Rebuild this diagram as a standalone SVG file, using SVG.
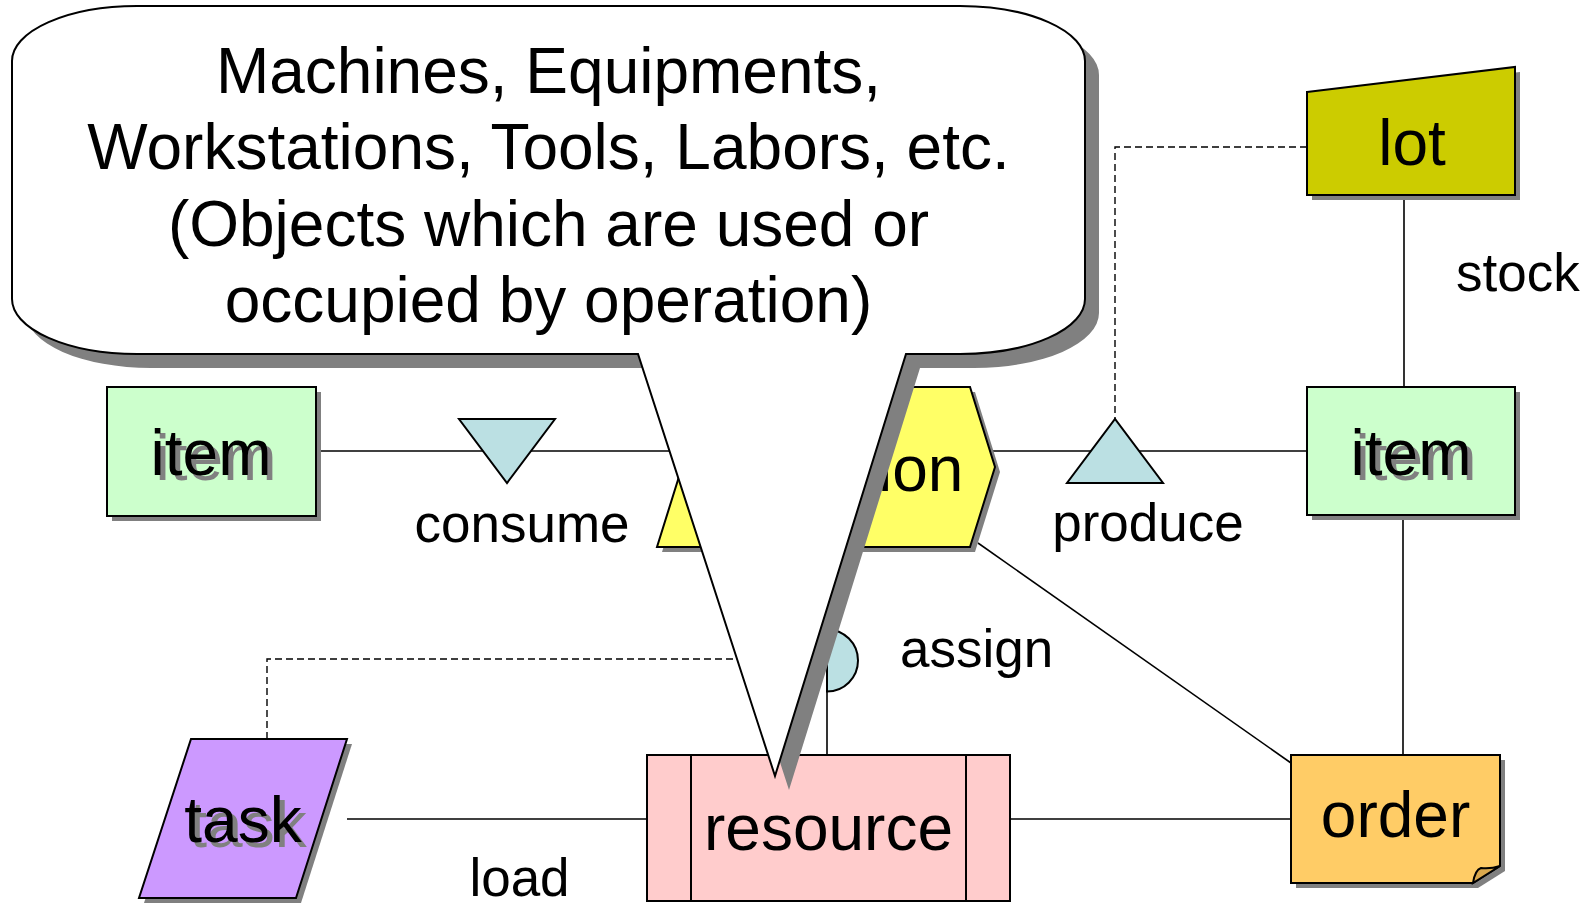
<svg xmlns="http://www.w3.org/2000/svg" width="1586" height="903" viewBox="0 0 1586 903">
  <style>
    .ln { stroke: #000; stroke-width: 1.6; fill: none; }
    .dash { stroke: #000; stroke-width: 1.4; fill: none; stroke-dasharray: 7 4; }
    .shape { stroke: #000; stroke-width: 2; stroke-linejoin: miter; }
    .shadow { fill: #808080; stroke: none; }
    .node { font-family: "Liberation Sans", Arial, sans-serif; font-size: 64px; text-anchor: middle; fill: #000; }
    .node-sh { font-family: "Liberation Sans", Arial, sans-serif; font-size: 64px; text-anchor: middle; fill: #808080; }
    .lbl { font-family: "Liberation Sans", Arial, sans-serif; font-size: 53px; fill: #000; }
    .mid { text-anchor: middle; }
    .rel { fill: #BBE0E3; }
  </style>
  <rect x="0" y="0" width="1586" height="903" fill="#FFFFFF"/>

  <!-- connectors -->
  <g id="connectors">
    <line class="ln" x1="316" y1="451" x2="677" y2="451"/>
    <line class="ln" x1="990" y1="451" x2="1307" y2="451"/>
    <line class="ln" x1="1404" y1="195" x2="1404" y2="387"/>
    <line class="ln" x1="1403" y1="515" x2="1403" y2="755"/>
    <polyline class="dash" points="1307,147 1115,147 1115,419"/>
    <polyline class="dash" points="267,739 267,659 827,659"/>
    <line class="ln" x1="978" y1="543" x2="1291" y2="763"/>
    <line class="ln" x1="827" y1="547" x2="827" y2="755"/>
    <line class="ln" x1="347" y1="819" x2="647" y2="819"/>
    <line class="ln" x1="1010" y1="819" x2="1291" y2="819"/>
  </g>

  <!-- relationship markers -->
  <g id="consume">
    <polygon class="shape rel" points="459,419 555,419 507,483"/>
    <text class="lbl mid" x="522" y="542">consume</text>
  </g>
  <g id="produce">
    <polygon class="shape rel" points="1067,483 1163,483 1115,419"/>
    <text class="lbl mid" x="1148" y="541">produce</text>
  </g>
  <g id="assign">
    <path class="shape rel" d="M827,629.5 A31,31 0 0 1 827,691.5 Z"/>
    <text class="lbl" x="900" y="667">assign</text>
  </g>
  <text class="lbl" x="1456" y="291">stock</text>
  <text class="lbl mid" x="519.5" y="896">load</text>

  <!-- nodes -->
  <g id="item-in">
    <rect class="shadow" x="112" y="392" width="209" height="129"/>
    <rect class="shape" x="107" y="387" width="209" height="129" fill="#CCFFCC"/>
    <text class="node-sh" x="216" y="480">item</text>
    <text class="node" x="211" y="475">item</text>
  </g>

  <g id="operation">
    <polygon class="shadow" points="662,392 975,392 1000,472 975,552 662,552 687,472"/>
    <polygon class="shape" points="657,387 970,387 995,467 970,547 657,547 682,467" fill="#FFFF66"/>
    <text class="node" x="830" y="491">operation</text>
  </g>

  <g id="item-out">
    <rect class="shadow" x="1312" y="392" width="208" height="128"/>
    <rect class="shape" x="1307" y="387" width="208" height="128" fill="#CCFFCC"/>
    <text class="node-sh" x="1416" y="480">item</text>
    <text class="node" x="1411" y="475">item</text>
  </g>

  <g id="lot">
    <polygon class="shadow" points="1312,97 1520,72 1520,200 1312,200"/>
    <polygon class="shape" points="1307,92 1515,67 1515,195 1307,195" fill="#CCCC00"/>
    <text class="node" x="1412" y="165">lot</text>
  </g>

  <g id="task">
    <polygon class="shadow" points="196,744 352,744 301,903 144,903"/>
    <polygon class="shape" points="191,739 347,739 296,898 139,898" fill="#CC99FF"/>
    <text class="node-sh" x="248" y="847">task</text>
    <text class="node" x="243" y="842">task</text>
  </g>

  <g id="resource">
    <rect class="shape" x="647" y="755" width="363" height="146" fill="#FFCCCC"/>
    <line class="shape" x1="691" y1="755" x2="691" y2="901"/>
    <line class="shape" x1="966" y1="755" x2="966" y2="901"/>
    <text class="node" x="828.5" y="850">resource</text>
  </g>

  <g id="order">
    <path class="shadow" d="M1296,760 H1505 V871 L1478,888 H1296 Z"/>
    <path class="shape" d="M1291,755 H1500 V866 L1473,883 H1291 Z" fill="#FFCC66"/>
    <path class="shape" d="M1473,883 Q1475,870 1481,868 Q1491,869 1500,866 Z" fill="#D9A84E" stroke-width="1.6"/>
    <text class="node" x="1395.5" y="837">order</text>
  </g>

  <!-- callout balloon -->
  <g id="callout">
    <path class="shadow" transform="translate(14,14)" d="M137,6 H960 A125,55 0 0 1 1085,61 V299 A125,55 0 0 1 960,354 H906 L775,776 L638,354 H137 A125,55 0 0 1 12,299 V61 A125,55 0 0 1 137,6 Z"/>
    <path class="shape" fill="#FFFFFF" stroke-width="1.8" d="M137,6 H960 A125,55 0 0 1 1085,61 V299 A125,55 0 0 1 960,354 H906 L775,776 L638,354 H137 A125,55 0 0 1 12,299 V61 A125,55 0 0 1 137,6 Z"/>
    <text class="node" x="548.5" y="93">Machines, Equipments,</text>
    <text class="node" x="548.5" y="169">Workstations, Tools, Labors, etc.</text>
    <text class="node" x="548.5" y="246">(Objects which are used or</text>
    <text class="node" x="548.5" y="322">occupied by operation)</text>
  </g>
</svg>
